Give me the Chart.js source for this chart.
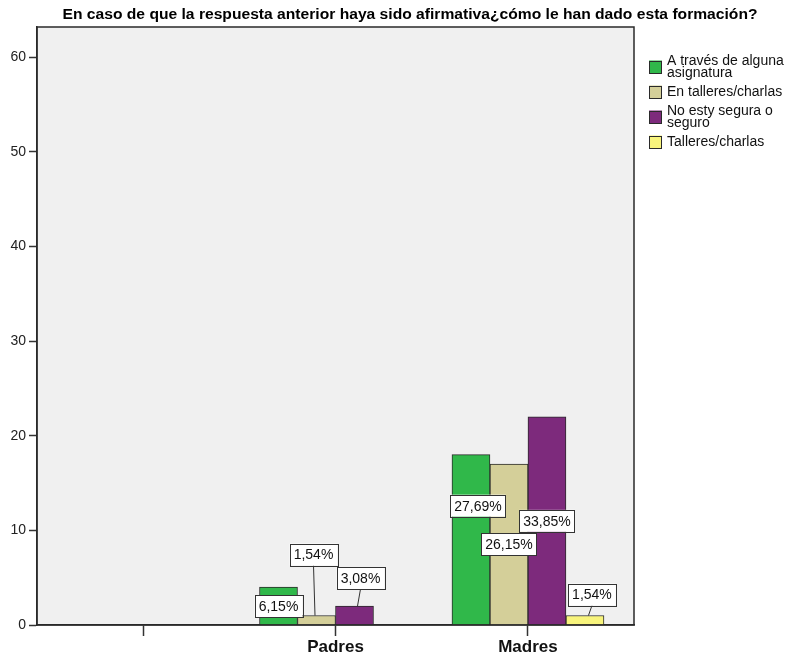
<!DOCTYPE html>
<html lang="es">
<head>
<meta charset="UTF-8" />
<title>Formación recibida</title>
<script src="https://cdn.jsdelivr.net/npm/chart.js"></script>
<style>
  body { margin: 0; background: #ffffff; }
</style>
</head>
<body>
<canvas id="formChart" width="789" height="659"></canvas>

<script>
// categories on the x axis (first slot is empty)
const categories = ['', 'Padres', 'Madres'];

// counts per answer
const viaAsignatura = [null, 4, 18];
const enTalleres    = [null, 1, 17];
const noSegura      = [null, 2, 22];
const talleres      = [null, 0, 1];

const seriesNames = [
  ['A través de alguna', 'asignatura'],
  ['En talleres/charlas'],
  ['No esty segura o', 'seguro'],
  ['Talleres/charlas']
];
const seriesValues = [viaAsignatura, enTalleres, noSegura, talleres];
const seriesColors = ['#30b84a', '#d4cf99', '#7d2a7c', '#f8f47c'];

const yTicks = [0, 10, 20, 30, 40, 50, 60];

// where each value box sits, relative to the top centre of its bar (px)
const labelOffsets = [
  [null, [0, 19],   [7, 51]],
  [null, [-3, -61], [0, 80]],
  [null, [6, -28],  [0, 104]],
  [null, null,      [7, -21]]
];

const FONT = "'Liberation Sans', Arial, sans-serif";
const total = seriesValues.flat().reduce((a, v) => a + (v || 0), 0);

function pct(v) {
  return (v / total * 100).toFixed(2).replace('.', ',') + '%';
}

const plotBackground = {
  id: 'plotBackground',
  beforeDraw(chart) {
    const { ctx, chartArea: a } = chart;
    ctx.save();
    ctx.fillStyle = '#f0f0f0';
    ctx.fillRect(a.left, a.top, a.right - a.left, a.bottom - a.top);
    ctx.restore();
  }
};

const plotFrame = {
  id: 'plotFrame',
  afterDraw(chart) {
    const { ctx, chartArea: a } = chart;
    ctx.save();
    ctx.strokeStyle = '#2a2a2a';
    ctx.lineWidth = 1.5;
    ctx.strokeRect(a.left, a.top, a.right - a.left, a.bottom - a.top);
    ctx.restore();
  }
};

const valueBoxes = {
  id: 'valueBoxes',
  afterDatasetsDraw(chart) {
    const ctx = chart.ctx;
    ctx.save();
    ctx.font = '14px ' + FONT;
    ctx.textAlign = 'center';
    ctx.textBaseline = 'middle';
    seriesValues.forEach((vals, k) => {
      const meta = chart.getDatasetMeta(k);
      vals.forEach((v, i) => {
        if (!v || !labelOffsets[k][i]) return;
        const bar = meta.data[i];
        const [dx, dy] = labelOffsets[k][i];
        const cx = bar.x + dx;
        const cy = bar.y + dy;
        const text = pct(v);
        const w = ctx.measureText(text).width + 8;
        const h = 22;
        if (dy < 0) {
          ctx.strokeStyle = '#333';
          ctx.lineWidth = 1;
          ctx.beginPath();
          ctx.moveTo(cx, cy + h / 2);
          ctx.lineTo(bar.x + dx / 2, bar.y);
          ctx.stroke();
        }
        ctx.fillStyle = '#ffffff';
        ctx.fillRect(cx - w / 2, cy - h / 2, w, h);
        ctx.strokeStyle = '#333';
        ctx.lineWidth = 1;
        ctx.strokeRect(Math.round(cx - w / 2) + 0.5, Math.round(cy - h / 2) + 0.5, Math.round(w), h);
        ctx.fillStyle = '#111';
        ctx.fillText(text, cx, cy + 1);
      });
    });
    ctx.restore();
  }
};

const titleAndLegend = {
  id: 'titleAndLegend',
  afterDraw(chart) {
    const ctx = chart.ctx;
    ctx.save();
    // title, squeezed to the width SPSS gives it
    const title = 'En caso de que la respuesta anterior haya sido afirmativa¿cómo le han dado esta formación?';
    ctx.font = 'bold 14px ' + FONT;
    ctx.fillStyle = '#000';
    ctx.textBaseline = 'alphabetic';
    const tw = ctx.measureText(title).width;
    const sx = 695 / tw;
    ctx.translate(410, 19);
    ctx.scale(sx, 1);
    ctx.textAlign = 'center';
    ctx.fillText(title, 0, 0);
    ctx.setTransform(1, 0, 0, 1, 0, 0);

    // legend: two-line entries get their swatch centred on the block
    ctx.font = '14px ' + FONT;
    ctx.textAlign = 'left';
    ctx.textBaseline = 'middle';
    let y = 61;
    seriesNames.forEach((lines, k) => {
      const boxCy = y + (lines.length - 1) * 6;
      ctx.fillStyle = seriesColors[k];
      ctx.fillRect(649, boxCy - 6.5, 13, 13);
      ctx.strokeStyle = '#2a2a2a';
      ctx.lineWidth = 1;
      ctx.strokeRect(649.5, Math.round(boxCy - 6.5) + 0.5, 12, 12);
      ctx.fillStyle = '#111';
      lines.forEach((line, j) => ctx.fillText(line, 667, y + j * 12));
      y += lines.length * 12 + 7;
    });
    ctx.restore();
  }
};

const datasets = seriesValues.map((vals, k) => ({
  label: seriesNames[k].join(' '),
  data: vals.map((v, i) => ({ x: i, y: v })),
  backgroundColor: seriesColors[k],
  borderColor: '#2a2a2a',
  borderWidth: 1,
  borderSkipped: 'bottom',
  barThickness: 38
}));

new Chart(document.getElementById('formChart'), {
  type: 'bar',
  data: { datasets },
  options: {
    responsive: false,
    animation: false,
    layout: { padding: { top: 27, right: 155, left: 0, bottom: 0 } },
    plugins: {
      legend: { display: false },
      title: { display: false },
      tooltip: { enabled: false }
    },
    scales: {
      x: {
        type: 'linear',
        min: -0.551,
        max: 2.551,
        offset: false,
        afterBuildTicks: axis => { axis.ticks = categories.map((c, i) => ({ value: i })); },
        afterFit: axis => { axis.height = 34; },
        ticks: {
          callback: v => categories[v],
          autoSkip: false,
          maxRotation: 0,
          padding: 1,
          color: '#111',
          font: { family: FONT, size: 17, weight: 'bold' }
        },
        grid: { offset: false, drawOnChartArea: false, tickLength: 11, tickColor: '#333', tickWidth: 1.5 },
        border: { color: '#2a2a2a', width: 1.5 }
      },
      y: {
        min: 0,
        max: 63.2,
        afterBuildTicks: axis => { axis.ticks = yTicks.map(v => ({ value: v })); },
        afterFit: axis => { axis.width = 37; },
        ticks: {
          padding: 3,
          color: '#222',
          font: { family: FONT, size: 14 }
        },
        grid: { drawOnChartArea: false, tickLength: 8, tickColor: '#333', tickWidth: 1.5 },
        border: { color: '#2a2a2a', width: 1.5 }
      }
    }
  },
  plugins: [plotBackground, valueBoxes, plotFrame, titleAndLegend]
});
</script>
</body>
</html>
